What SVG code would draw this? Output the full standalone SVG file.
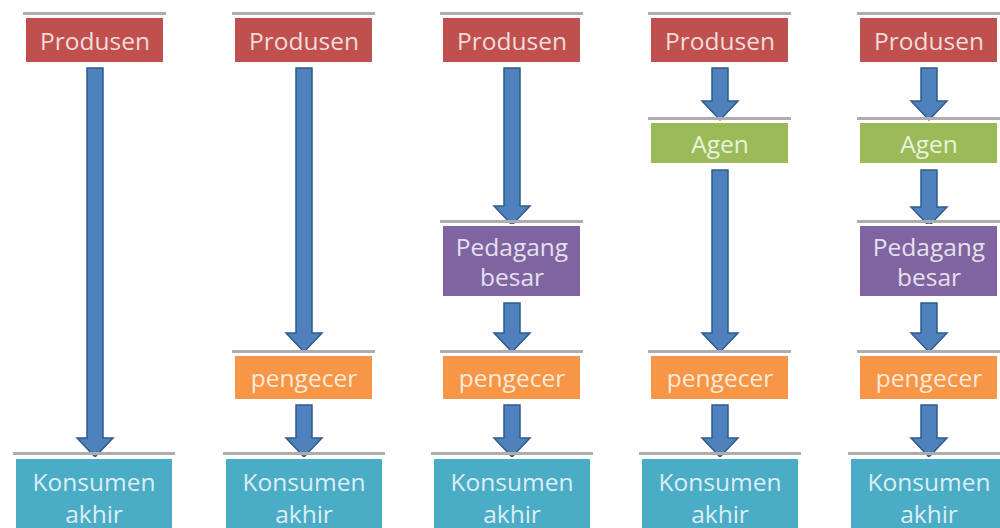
<svg xmlns="http://www.w3.org/2000/svg" width="1000" height="528" viewBox="0 0 1000 528">
<style>
.sh{fill:#adadad}
.bx{stroke:#ffffff;stroke-width:2}
.red{fill:#c0504d}.grn{fill:#9bbb59}.pur{fill:#8064a2}.org{fill:#f79646}.cyn{fill:#4bacc6}
text{font-family:"Open Sans","Liberation Sans",sans-serif;font-size:24.5px;text-anchor:middle;dominant-baseline:central}
.tr{fill:#f2dcdb}.tg{fill:#ebf1de}.tp{fill:#e5e0ec}.to{fill:#fde9d9}.tc{fill:#dbeef3}
.ar{fill:#4f81bd;stroke:#2f5a8f;stroke-width:1.5;stroke-linejoin:miter}
</style>
<rect width="1000" height="528" fill="#ffffff"/>
<g id="connectors">
<path class="ar" d="M87,68 H103 V438 H113 L95,457 L77,438 H87 Z"/>
<path class="ar" d="M296,68 H312 V333 H322 L304,352 L286,333 H296 Z"/>
<path class="ar" d="M296,405 H312 V438 H322 L304,457 L286,438 H296 Z"/>
<path class="ar" d="M504,68 H520 V206 H530 L512,225 L494,206 H504 Z"/>
<path class="ar" d="M504,303 H520 V333 H530 L512,352 L494,333 H504 Z"/>
<path class="ar" d="M504,405 H520 V438 H530 L512,457 L494,438 H504 Z"/>
<path class="ar" d="M712,68 H728 V101 H738 L720,120 L702,101 H712 Z"/>
<path class="ar" d="M712,170 H728 V333 H738 L720,352 L702,333 H712 Z"/>
<path class="ar" d="M712,405 H728 V438 H738 L720,457 L702,438 H712 Z"/>
<path class="ar" d="M921,68 H937 V101 H947 L929,120 L911,101 H921 Z"/>
<path class="ar" d="M921,170 H937 V207 H947 L929,226 L911,207 H921 Z"/>
<path class="ar" d="M921,303 H937 V333 H947 L929,352 L911,333 H921 Z"/>
<path class="ar" d="M921,405 H937 V438 H947 L929,457 L911,438 H921 Z"/>
</g>
<g id="produsen1"><rect class="sh" x="23" y="12" width="143" height="3"/><rect class="bx red" x="25" y="17" width="139" height="46"/><text class="tr" x="95" y="40">Produsen</text></g>
<g id="produsen2"><rect class="sh" x="232" y="12" width="143" height="3"/><rect class="bx red" x="234" y="17" width="139" height="46"/><text class="tr" x="304" y="40">Produsen</text></g>
<g id="produsen3"><rect class="sh" x="440" y="12" width="143" height="3"/><rect class="bx red" x="442" y="17" width="139" height="46"/><text class="tr" x="512" y="40">Produsen</text></g>
<g id="produsen4"><rect class="sh" x="648" y="12" width="143" height="3"/><rect class="bx red" x="650" y="17" width="139" height="46"/><text class="tr" x="720" y="40">Produsen</text></g>
<g id="produsen5"><rect class="sh" x="857" y="12" width="143" height="3"/><rect class="bx red" x="859" y="17" width="139" height="46"/><text class="tr" x="929" y="40">Produsen</text></g>
<g id="agen4"><rect class="sh" x="648" y="117" width="143" height="3"/><rect class="bx grn" x="650" y="122" width="139" height="42"/><text class="tg" x="720" y="143">Agen</text></g>
<g id="agen5"><rect class="sh" x="857" y="117" width="143" height="3"/><rect class="bx grn" x="859" y="122" width="139" height="42"/><text class="tg" x="929" y="143">Agen</text></g>
<g id="pedagang3"><rect class="sh" x="440" y="220" width="143" height="3"/><rect class="bx pur" x="442" y="225" width="139" height="72"/><text class="tp" x="512" y="246">Pedagang</text><text class="tp" x="512" y="276">besar</text></g>
<g id="pedagang5"><rect class="sh" x="857" y="220" width="143" height="3"/><rect class="bx pur" x="859" y="225" width="139" height="72"/><text class="tp" x="929" y="246">Pedagang</text><text class="tp" x="929" y="276">besar</text></g>
<g id="pengecer2"><rect class="sh" x="232" y="350" width="143" height="3"/><rect class="bx org" x="234" y="355" width="139" height="45"/><text class="to" x="304" y="377">pengecer</text></g>
<g id="pengecer3"><rect class="sh" x="440" y="350" width="143" height="3"/><rect class="bx org" x="442" y="355" width="139" height="45"/><text class="to" x="512" y="377">pengecer</text></g>
<g id="pengecer4"><rect class="sh" x="648" y="350" width="143" height="3"/><rect class="bx org" x="650" y="355" width="139" height="45"/><text class="to" x="720" y="377">pengecer</text></g>
<g id="pengecer5"><rect class="sh" x="857" y="350" width="143" height="3"/><rect class="bx org" x="859" y="355" width="139" height="45"/><text class="to" x="929" y="377">pengecer</text></g>
<g id="konsumen1"><rect class="sh" x="13" y="452" width="162" height="3"/><rect class="bx cyn" x="15" y="458" width="158" height="74"/><text class="tc" x="94" y="481">Konsumen</text><text class="tc" x="94" y="513">akhir</text></g>
<g id="konsumen2"><rect class="sh" x="223" y="452" width="162" height="3"/><rect class="bx cyn" x="225" y="458" width="158" height="74"/><text class="tc" x="304" y="481">Konsumen</text><text class="tc" x="304" y="513">akhir</text></g>
<g id="konsumen3"><rect class="sh" x="431" y="452" width="162" height="3"/><rect class="bx cyn" x="433" y="458" width="158" height="74"/><text class="tc" x="512" y="481">Konsumen</text><text class="tc" x="512" y="513">akhir</text></g>
<g id="konsumen4"><rect class="sh" x="639" y="452" width="162" height="3"/><rect class="bx cyn" x="641" y="458" width="158" height="74"/><text class="tc" x="720" y="481">Konsumen</text><text class="tc" x="720" y="513">akhir</text></g>
<g id="konsumen5"><rect class="sh" x="848" y="452" width="162" height="3"/><rect class="bx cyn" x="850" y="458" width="158" height="74"/><text class="tc" x="929" y="481">Konsumen</text><text class="tc" x="929" y="513">akhir</text></g>
</svg>
